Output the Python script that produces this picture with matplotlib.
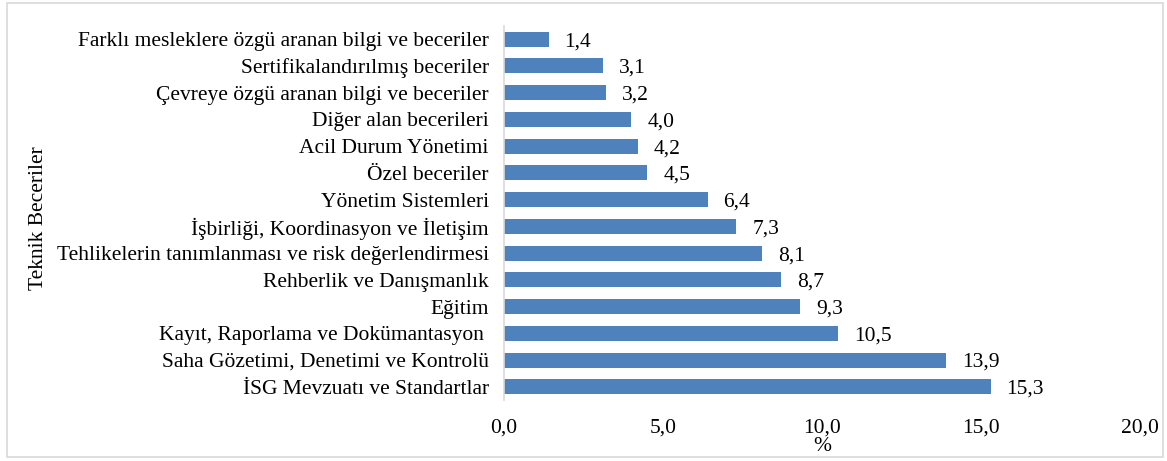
import matplotlib.pyplot as plt
from matplotlib.patches import Rectangle

categories = [
    'İSG Mevzuatı ve Standartlar',
    'Saha Gözetimi, Denetimi ve Kontrolü',
    'Kayıt, Raporlama ve Dokümantasyon ',
    'Eğitim',
    'Rehberlik ve Danışmanlık',
    'Tehlikelerin tanımlanması ve risk değerlendirmesi',
    'İşbirliği, Koordinasyon ve İletişim',
    'Yönetim Sistemleri',
    'Özel beceriler',
    'Acil Durum Yönetimi',
    'Diğer alan becerileri',
    'Çevreye özgü aranan bilgi ve beceriler',
    'Sertifikalandırılmış beceriler',
    'Farklı mesleklere özgü aranan bilgi ve beceriler',
]
values = [15.3, 13.9, 10.5, 9.3, 8.7, 8.1, 7.3, 6.4, 4.5, 4.2, 4.0, 3.2, 3.1, 1.4]
xticks = [0, 5, 10, 15, 20]

plt.rcParams['font.family'] = ['Liberation Serif', 'DejaVu Serif']
fs = 15.5

fig = plt.figure(figsize=(11.67, 4.61), dpi=100)
ax = fig.add_axes([0.432, 0.132, 0.545, 0.812])

y = range(len(categories))
ax.barh(y, values, height=0.56, color='#4F81BD')
for yi, v in zip(y, values):
    ax.text(v + 0.5, yi, f'{v:.1f}'.replace('.', ','), va='center_baseline', ha='left', fontsize=fs)

ax.set_ylim(-0.5, len(categories) - 0.5)
ax.set_xlim(0, 20)
ax.set_xticks(xticks)
ax.set_xticklabels([f'{t:.1f}'.replace('.', ',') for t in xticks], fontsize=fs)
ax.set_yticks(list(y))
ax.set_yticklabels(categories, fontsize=fs)
ax.tick_params(axis='both', length=0)
ax.tick_params(axis='x', pad=13)
ax.tick_params(axis='y', pad=11)
for s in ['top', 'right', 'bottom']:
    ax.spines[s].set_visible(False)
ax.spines['left'].set_color('#D9D9D9')
ax.spines['left'].set_linewidth(1.2)

ax.set_xlabel('%', fontsize=fs, labelpad=0)
fig.text(0.033, 0.527, 'Teknik Beceriler', rotation=90, va='center', ha='center', fontsize=fs)

fig.patches.append(Rectangle((0.006, 0.008), 0.991, 0.986, transform=fig.transFigure,
                             fill=False, edgecolor='#D9D9D9', linewidth=1.2))

fig.savefig('out.png', dpi=100)
